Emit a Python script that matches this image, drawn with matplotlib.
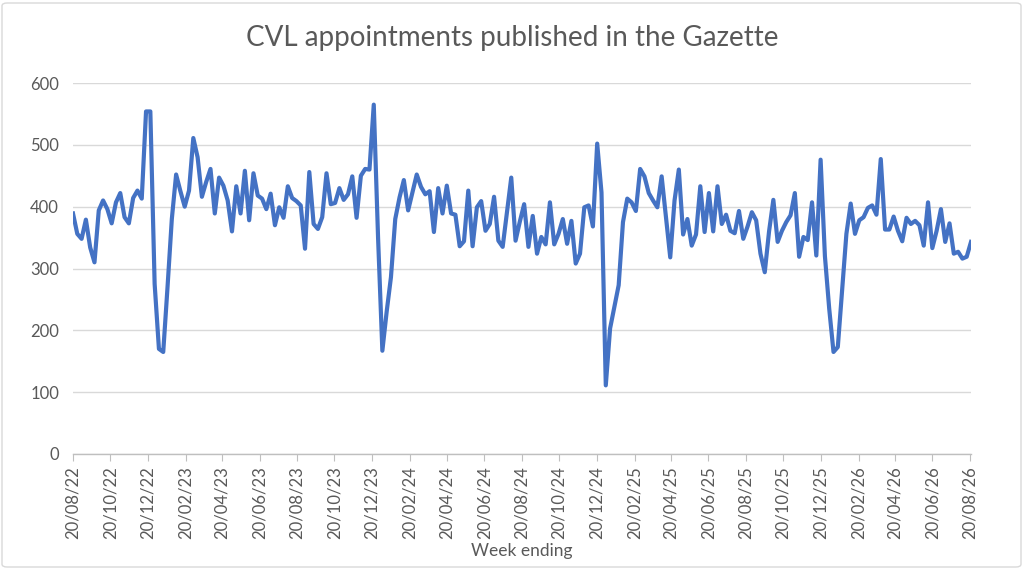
import pandas as pd
import matplotlib
matplotlib.use("Agg")
import matplotlib.pyplot as plt
import matplotlib.dates as mdates
from matplotlib.patches import FancyBboxPatch

plt.rcParams['font.family'] = ['Lato', 'DejaVu Sans']

start_date = "2022-08-20"
appointments = [
    389, 356, 348, 379, 334, 310, 394, 410, 396, 373, 407, 422, 383, 373, 414, 426, 413, 554, 554, 275,
    170, 165, 270, 380, 452, 425, 400, 426, 511, 480, 416, 440, 461, 389, 447,
    434, 410, 360, 433, 389, 458, 378, 454, 418, 413, 396, 421, 370, 399, 382, 433, 414, 409, 402, 332,
    456, 372, 364, 383, 454, 404, 406, 430, 411, 420, 449, 382, 450, 461, 460,
    565, 350, 167, 230, 286, 380, 415, 443, 394, 423, 452, 432, 420, 425, 359, 430, 389, 434, 389, 387,
    336, 344, 426, 336, 399, 409, 361, 372, 416, 345, 335, 391,
    447, 345, 376, 404, 335, 385, 324, 351, 339, 407, 339, 356, 380, 340, 377, 308, 324, 399, 402, 368,
    502, 423, 111, 203, 238, 273, 375, 413, 407, 393, 461, 449, 422, 410, 399, 449,
    383, 318, 410, 460, 355, 380, 337, 355, 433, 359, 422, 360, 433, 372, 387, 361, 357, 393, 348, 368,
    391, 378, 324, 294, 360, 411, 343, 361, 375, 386, 422, 319, 351, 346, 407, 321, 476,
    320, 235, 165, 173, 265, 356, 405, 356, 378, 383, 398, 402, 387, 477, 363, 363, 384, 361, 344, 382,
    372, 377, 370, 337, 407, 333, 361, 396, 343, 373, 324, 327, 316, 319, 343,
]
weeks = pd.date_range(start_date, periods=len(appointments), freq="7D")
y_ticks = [0, 100, 200, 300, 400, 500, 600]

grey = "#595959"

fig = plt.figure(figsize=(10.24, 5.69), dpi=100)
ax = fig.add_axes([73 / 1024, 1 - 454 / 569, 898 / 1024, 371 / 569])

ax.plot(weeks, appointments, color="#4472C4", linewidth=3.0, solid_joinstyle="round")

ax.set_ylim(0, 600)
ax.set_yticks(y_ticks)
ax.set_xlim(weeks[0], weeks[-1])
ax.xaxis.set_major_locator(mdates.MonthLocator(bymonth=[2, 4, 6, 8, 10, 12], bymonthday=20))
ax.xaxis.set_major_formatter(mdates.DateFormatter("%d/%m/%y"))
plt.setp(ax.get_xticklabels(), rotation=90)

ax.grid(axis="y", color="#D9D9D9", linewidth=1)
ax.set_axisbelow(True)
for side in ["top", "right", "left"]:
    ax.spines[side].set_visible(False)
ax.spines["bottom"].set_color("#BFBFBF")
ax.spines["bottom"].set_linewidth(1)
ax.tick_params(axis="y", length=0, labelsize=12, labelcolor=grey, pad=10)
ax.tick_params(axis="x", length=5, color="#BFBFBF", labelsize=12, labelcolor=grey, pad=4)

ax.set_xlabel("Week ending", fontsize=12.5, color=grey, labelpad=3)
fig.text(0.5, 1 - 38 / 569, "CVL appointments published in the Gazette",
         ha="center", va="center", fontsize=20, color=grey)

border = FancyBboxPatch((2 / 1024, 2 / 569), 1 - 5 / 1024, 1 - 5 / 569,
                        boxstyle="round,pad=0,rounding_size=0.005",
                        transform=fig.transFigure, fill=False,
                        edgecolor="#D9D9D9", linewidth=1)
fig.patches.append(border)

fig.savefig("out.png", dpi=100)
